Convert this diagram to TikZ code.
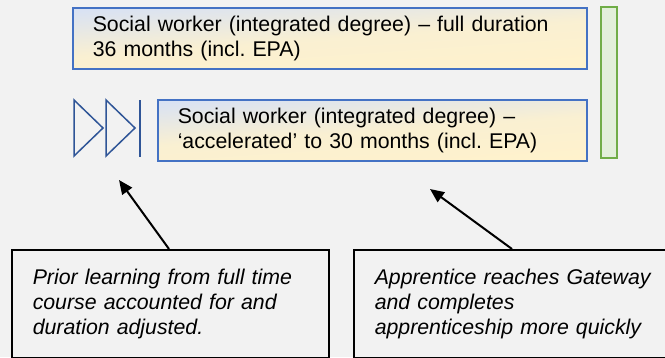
\documentclass[tikz,border=0pt]{standalone}
\usepackage{fontspec}
\setmainfont{Liberation Sans}
\usetikzlibrary{arrows.meta}
\definecolor{pagegrey}{HTML}{F2F2F2}
\definecolor{routeblue}{HTML}{4472C4}
\definecolor{routetop}{HTML}{D9E2F3}
\definecolor{routebottom}{HTML}{FFF2CC}
\definecolor{ffblue}{HTML}{2F5597}
\definecolor{bargreen}{HTML}{70AD47}
\definecolor{barfill}{HTML}{E2EFDA}

\begin{document}
\frenchspacing
\begin{tikzpicture}[x=1pt,y=-1pt]
      \tikzstyle{every node}=[font=\fontsize{21.3pt}{24.6pt}\selectfont, align=left, anchor=north west]
      \tikzstyle{route}=[draw=routeblue, line width=1.5pt, top color=routetop, bottom color=routebottom, middle color=routebottom!85!routetop, shading angle=4, inner xsep=20pt, minimum height=61pt]
      \tikzstyle{note}=[draw=black, line width=1.5pt, font=\fontsize{21.3pt}{25pt}\selectfont\itshape, inner xsep=21pt, minimum height=108pt]
      \tikzstyle{pointer}=[-{Triangle[length=14pt,width=12pt]}, line width=2pt]

      \useasboundingbox (0,0) rectangle (665,357);
      \clip (0,0) rectangle (665,357);
      \fill[pagegrey] (0,0) rectangle (665,357);

      \node[route, text width=474pt] (full) at (72,7)  {Social worker (integrated degree) -- full duration\\36 months (incl. EPA)};
      \node[route, text width=389pt] (fast) at (157,99) {Social worker (integrated degree) --\\‘accelerated’ to 30 months (incl. EPA)};

      \draw[bargreen, fill=barfill, line width=1.5pt] (601,7) rectangle (617,158);

      \draw[ffblue, line width=1.5pt, line join=miter] (74,100) -- (103,128) -- (74,156) -- cycle;
      \draw[ffblue, line width=1.5pt, line join=miter] (106,100) -- (135,128) -- (106,156) -- cycle;
      \draw[ffblue, line width=1.5pt] (140,100) -- (140,157);

      \node[note, text width=275pt] (prior) at (11,249)  {Prior learning from full time\\course accounted for and\\duration adjusted.};
      \node[note, text width=295pt] (gate)  at (353,249) {Apprentice reaches Gateway\\and completes\\apprenticeship more quickly};

      \coordinate (priorTip) at (119,180);
      \coordinate (gateTip)  at (430,189);
      \draw[pointer] ([xshift=158pt]prior.north west) -- (priorTip);
      \draw[pointer] ([xshift=159pt]gate.north west)  -- (gateTip);
\end{tikzpicture}
\end{document}
